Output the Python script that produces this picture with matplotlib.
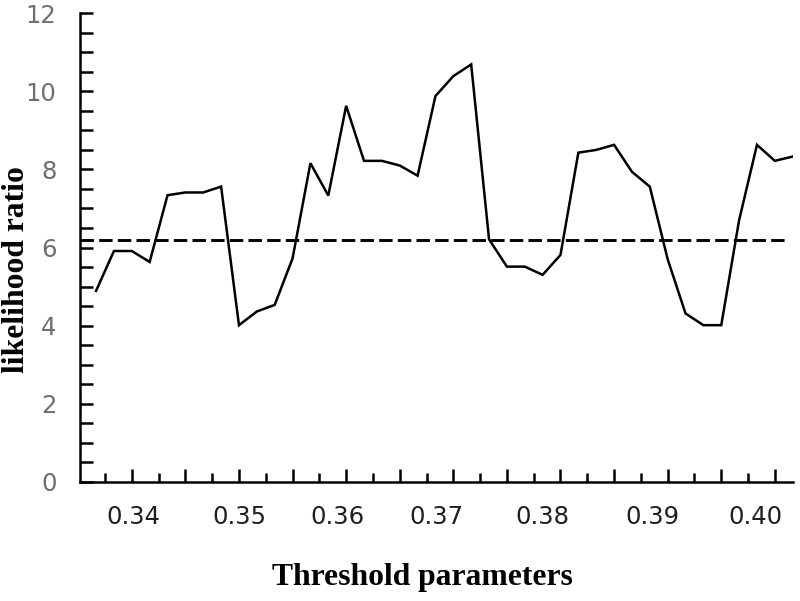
import matplotlib
matplotlib.use("Agg")
import matplotlib.pyplot as plt
import numpy as np

# Data
likelihood_ratio = [4.89, 5.91, 5.91, 5.63, 7.34, 7.41, 7.41, 7.56, 4.01, 4.36,
                    4.53, 5.72, 8.16, 7.33, 9.63, 8.22, 8.22, 8.10, 7.84, 9.88,
                    10.39, 10.69, 6.21, 5.51, 5.51, 5.30, 5.81, 8.43, 8.50, 8.63,
                    7.94, 7.56, 5.70, 4.31, 4.01, 4.01, 6.70, 8.63, 8.22, 8.33]
threshold_level = 6.2
x_tick_labels = ["0.34", "0.35", "0.36", "0.37", "0.38", "0.39", "0.40"]
x_label_pos = [2.07, 8.0, 13.5, 19.04, 24.97, 31.13, 36.9]   # in point-index units
y_tick_values = [0, 2, 4, 6, 8, 10, 12]

idx = np.arange(len(likelihood_ratio))

W, H = 800, 601
fig = plt.figure(figsize=(W / 100, H / 100), dpi=100)
left_px, right_px, top_px, bottom_px = 80, 792.7, 13.3, 481.7
ax = fig.add_axes([left_px / W, 1 - bottom_px / H,
                   (right_px - left_px) / W, (bottom_px - top_px) / H])

ax.plot(idx, likelihood_ratio, color="black", lw=1.8, solid_joinstyle="miter")
ax.plot([-0.9, 38.7], [threshold_level, threshold_level], color="black",
        lw=2.1, dashes=(4.6, 1.8), dash_capstyle="butt")

ax.set_xlim(-0.9, 39.0)
ax.set_ylim(0, 12)

for s in ["top", "right"]:
    ax.spines[s].set_visible(False)
for s in ["left", "bottom"]:
    ax.spines[s].set_linewidth(1.8)
    ax.spines[s].set_color("black")

# Y ticks
ax.set_yticks(y_tick_values)
ax.set_yticks(np.arange(0, 12.01, 0.5), minor=True)
ax.tick_params(axis="y", which="both", direction="in", length=9, width=1.8,
               color="black")
ax.tick_params(axis="y", which="major", pad=17, labelsize=17.5,
               labelcolor="#6e6e6e")

# X tick marks: long (major) and short (minor), no labels
long_ticks = [0.5 + 1.5 * k for k in range(1, 26, 2)]
short_ticks = [0.5 + 1.5 * k for k in range(0, 26, 2)]
ax.set_xticks(long_ticks)
ax.set_xticklabels([])
ax.set_xticks(short_ticks, minor=True)
ax.tick_params(axis="x", which="major", direction="in", length=9.5, width=1.8,
               color="black")
ax.tick_params(axis="x", which="minor", direction="in", length=6.5, width=1.8,
               color="black")

# X tick labels on a secondary axis at their own positions
sec = ax.secondary_xaxis("bottom")
sec.spines["bottom"].set_visible(False)
sec.set_xticks(x_label_pos)
sec.set_xticklabels(x_tick_labels)
sec.tick_params(axis="x", length=0, pad=17, labelsize=17.5, labelcolor="#1e1e28")

serif_bold = dict(family=["Liberation Serif", "DejaVu Serif"], weight="bold",
                  size=22.8)
ax.set_xlabel("Threshold parameters", **serif_bold)
ax.xaxis.label.set_va("center")
ax.xaxis.set_label_coords(0.48, -0.2035)
ax.set_ylabel("likelihood ratio", **serif_bold)
ax.yaxis.label.set_va("center")
ax.yaxis.set_label_coords(-0.0884, 0.452)

fig.savefig("out.png", dpi=100)
